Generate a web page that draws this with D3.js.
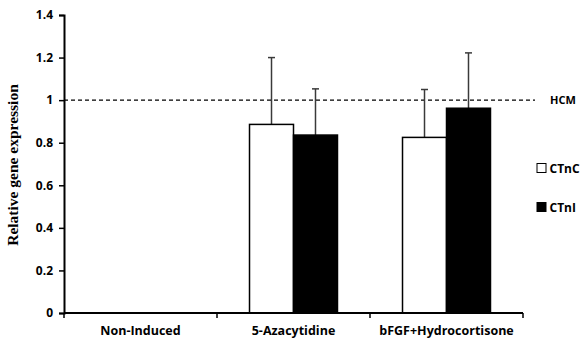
<!DOCTYPE html>
<html>
<head>
<meta charset="utf-8">
<script src="https://cdn.jsdelivr.net/npm/d3@7"></script>
<style>
  body { margin: 0; background: #fff; }
  svg { display: block; }
  .tick text { font-family: "Open Sans", sans-serif; font-weight: bold; }
</style>
</head>
<body>
<div id="chart"></div>
<script>
// data
const categories = ['Non-Induced', '5-Azacytidine', 'bFGF+Hydrocortisone'];
const seriesNames = ['CTnC', 'CTnI'];
const ctncValues = [null, 0.886, 0.825];
const ctncErrors = [null, 0.314, 0.225];
const ctniValues = [null, 0.836, 0.962];
const ctniErrors = [null, 0.217, 0.26];
const yTicks = [0, 0.2, 0.4, 0.6, 0.8, 1, 1.2, 1.4];
const referenceLevel = 1;
const referenceLabel = 'HCM';

const width = 583, height = 343;
const margin = { top: 15, right: 60, bottom: 30, left: 64 };

const svg = d3.select('#chart').append('svg')
    .attr('width', width).attr('height', height);

const x0 = d3.scaleBand().domain(categories)
    .range([margin.left, width - margin.right]).paddingInner(0).paddingOuter(0);
const x1 = d3.scaleBand().domain(seriesNames)
    .range([0, x0.bandwidth()]).paddingInner(0).paddingOuter(0.739);
const y = d3.scaleLinear().domain([0, 1.4]).range([height - margin.bottom, margin.top]);

const fills = { CTnC: '#fff', CTnI: '#000' };

const rows = [];
categories.forEach((c, i) => {
    rows.push({ cat: c, s: 'CTnC', v: ctncValues[i], e: ctncErrors[i] });
    rows.push({ cat: c, s: 'CTnI', v: ctniValues[i], e: ctniErrors[i] });
});
const data = rows.filter(d => d.v != null);

// reference line
svg.append('line')
    .attr('x1', margin.left).attr('x2', 535)
    .attr('y1', y(referenceLevel)).attr('y2', y(referenceLevel))
    .attr('stroke', '#000').attr('stroke-width', 1.2)
    .attr('stroke-dasharray', '4,3');
svg.append('text')
    .attr('x', 550).attr('y', y(referenceLevel) + 4)
    .attr('font-family', 'Open Sans, sans-serif').attr('font-weight', 'bold')
    .attr('font-size', 11).text(referenceLabel);

// error bars (drawn under bars)
const err = svg.append('g').attr('stroke', '#3a3a3a').attr('stroke-width', 1.5);
data.forEach(d => {
    const cx = x0(d.cat) + x1(d.s) + x1.bandwidth() / 2;
    err.append('line').attr('x1', cx).attr('x2', cx)
        .attr('y1', y(d.v)).attr('y2', y(d.v + d.e));
    err.append('line').attr('x1', cx - 3.5).attr('x2', cx + 3.5)
        .attr('y1', y(d.v + d.e)).attr('y2', y(d.v + d.e));
});

// bars
svg.append('g').selectAll('rect').data(data).enter().append('rect')
    .attr('x', d => x0(d.cat) + x1(d.s))
    .attr('y', d => y(d.v))
    .attr('width', x1.bandwidth())
    .attr('height', d => y(0) - y(d.v))
    .attr('fill', d => fills[d.s])
    .attr('stroke', '#000').attr('stroke-width', 1.5);

// y axis
const yAxis = svg.append('g')
    .attr('transform', `translate(${margin.left},0)`)
    .call(d3.axisLeft(y).tickValues(yTicks).tickSize(5).tickPadding(6)
        .tickFormat(d => d3.format('')(+d.toFixed(1))));
yAxis.select('.domain').attr('stroke-width', 2);
yAxis.selectAll('.tick line').attr('stroke-width', 1.5);
yAxis.selectAll('.tick text').attr('font-size', 12);

// x axis with ticks at category boundaries
const xAxisG = svg.append('g').attr('transform', `translate(0,${y(0)})`);
xAxisG.append('line')
    .attr('x1', margin.left).attr('x2', width - margin.right)
    .attr('stroke', '#000').attr('stroke-width', 2);
const bounds = categories.map(c => x0(c)).concat([x0.range()[1]]);
xAxisG.selectAll('.bt').data(bounds).enter().append('line')
    .attr('x1', d => d).attr('x2', d => d).attr('y1', 0).attr('y2', 5)
    .attr('stroke', '#000').attr('stroke-width', 1.5);
xAxisG.selectAll('.cl').data(categories).enter().append('text')
    .attr('x', d => x0(d) + x0.bandwidth() / 2).attr('y', 22)
    .attr('text-anchor', 'middle')
    .attr('font-family', 'Open Sans, sans-serif').attr('font-weight', 'bold')
    .attr('font-size', 12.5).text(d => d);

// y title
svg.append('text')
    .attr('transform', `translate(18,${(y(0) + y(1.4)) / 2 + 1}) rotate(-90)`)
    .attr('text-anchor', 'middle')
    .attr('font-family', 'Liberation Serif, serif').attr('font-weight', 'bold')
    .attr('font-size', 15.5).text('Relative gene expression');

// legend
const legend = svg.append('g').selectAll('g').data(seriesNames).enter().append('g')
    .attr('transform', (d, i) => `translate(537,${168 + i * 39})`);
legend.append('rect')
    .attr('x', 0).attr('y', -4.5).attr('width', 9).attr('height', 9)
    .attr('fill', d => fills[d]).attr('stroke', '#000').attr('stroke-width', 1);
legend.append('text')
    .attr('x', 12.5).attr('y', 4.5)
    .attr('font-family', 'Open Sans, sans-serif').attr('font-weight', 'bold')
    .attr('font-size', 12).text(d => d);
</script>
</body>
</html>
